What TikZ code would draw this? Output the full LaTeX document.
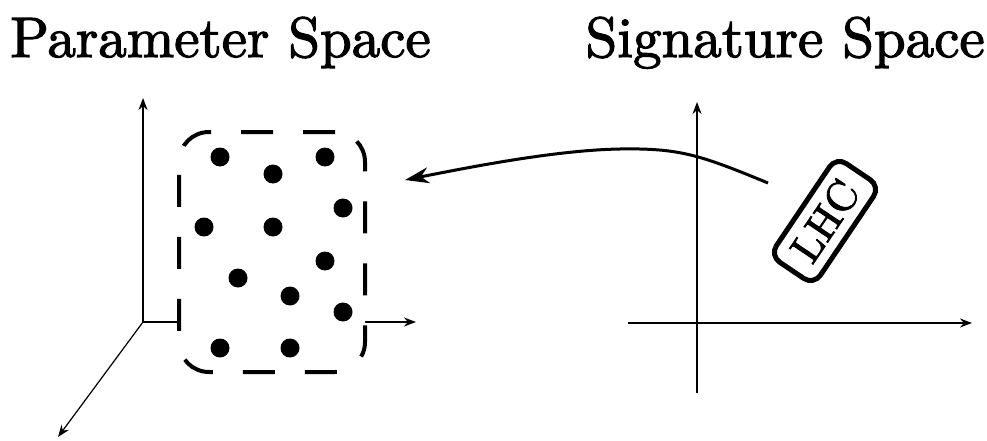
\documentclass[tikz,border=0pt]{standalone}
\usepackage{fontspec}
\newfontfamily\heavyfont{lmroman10-regular.otf}[FakeBold=2]
\usetikzlibrary{arrows.meta}
\begin{document}
\begin{tikzpicture}[x=1pt,y=1pt,
  axis/.style={line width=1.8pt,-{Stealth[length=12pt,width=9pt]}},
  datadot/.style={circle,fill=black,inner sep=0pt,minimum size=19pt},
  title/.style={font=\heavyfont\fontsize{57}{60}\selectfont,inner sep=0pt},
  region/.style={draw,dashed,line width=4pt,dash pattern=on 32pt off 30pt,rounded corners=30pt,fill=white,minimum width=186pt,minimum height=240pt,inner sep=0pt},
  lhcbox/.style={draw,line width=5pt,rounded corners=12pt,rotate=56,minimum width=119pt,minimum height=53pt,inner sep=0pt,font=\heavyfont\fontsize{42}{44}\selectfont},
  maparrow/.style={line width=3pt,-{Stealth[length=24pt,width=16pt]}}]
\useasboundingbox (0,0) rectangle (987,440);
% titles
\node[title,anchor=base west] (ptitle) at (10,383) {Parameter Space};
\node[title,anchor=base east] (stitle) at (985,383) {Signature Space};
% left axes
\coordinate (po) at (143,118);
\coordinate (py) at (143,342);
\coordinate (px) at (416,118);
\coordinate (pz) at (58,3);
\draw[axis] (po) -- (py);
\draw[axis] (po) -- (px);
\draw[line width=1.2pt,-{Stealth[length=12pt,width=9pt]}] (po) -- (pz);
% region
\node[region] (reg) at (272,188) {};
% dots
\node[datadot] (d1) at (220,283) {};
\node[datadot] (d2) at (325,283) {};
\node[datadot] (d3) at (273,266) {};
\node[datadot] (d4) at (343,232) {};
\node[datadot] (d5) at (204,213) {};
\node[datadot] (d6) at (273,213) {};
\node[datadot] (d7) at (325,179) {};
\node[datadot] (d8) at (238,162) {};
\node[datadot] (d9) at (290,144) {};
\node[datadot] (d10) at (343,128) {};
\node[datadot] (d11) at (220,92) {};
\node[datadot] (d12) at (290,92) {};
% right axes
\coordinate (sy0) at (697,47);
\coordinate (sy1) at (697,338);
\coordinate (sx0) at (628,117);
\coordinate (sx1) at (972,117);
\draw[axis] (sy0) -- (sy1);
\draw[axis] (sx0) -- (sx1);
% LHC
\node[lhcbox] (lhc) at (825,219) {LHC};
% map arrow
\coordinate (mstart) at (768,257);
\coordinate (mend) at (405,260);
\draw[maparrow] (mstart) .. controls (700,285) and (680,292) .. (620,291) .. controls (560,290) and (480,275) .. (mend);
\end{tikzpicture}
\end{document}
